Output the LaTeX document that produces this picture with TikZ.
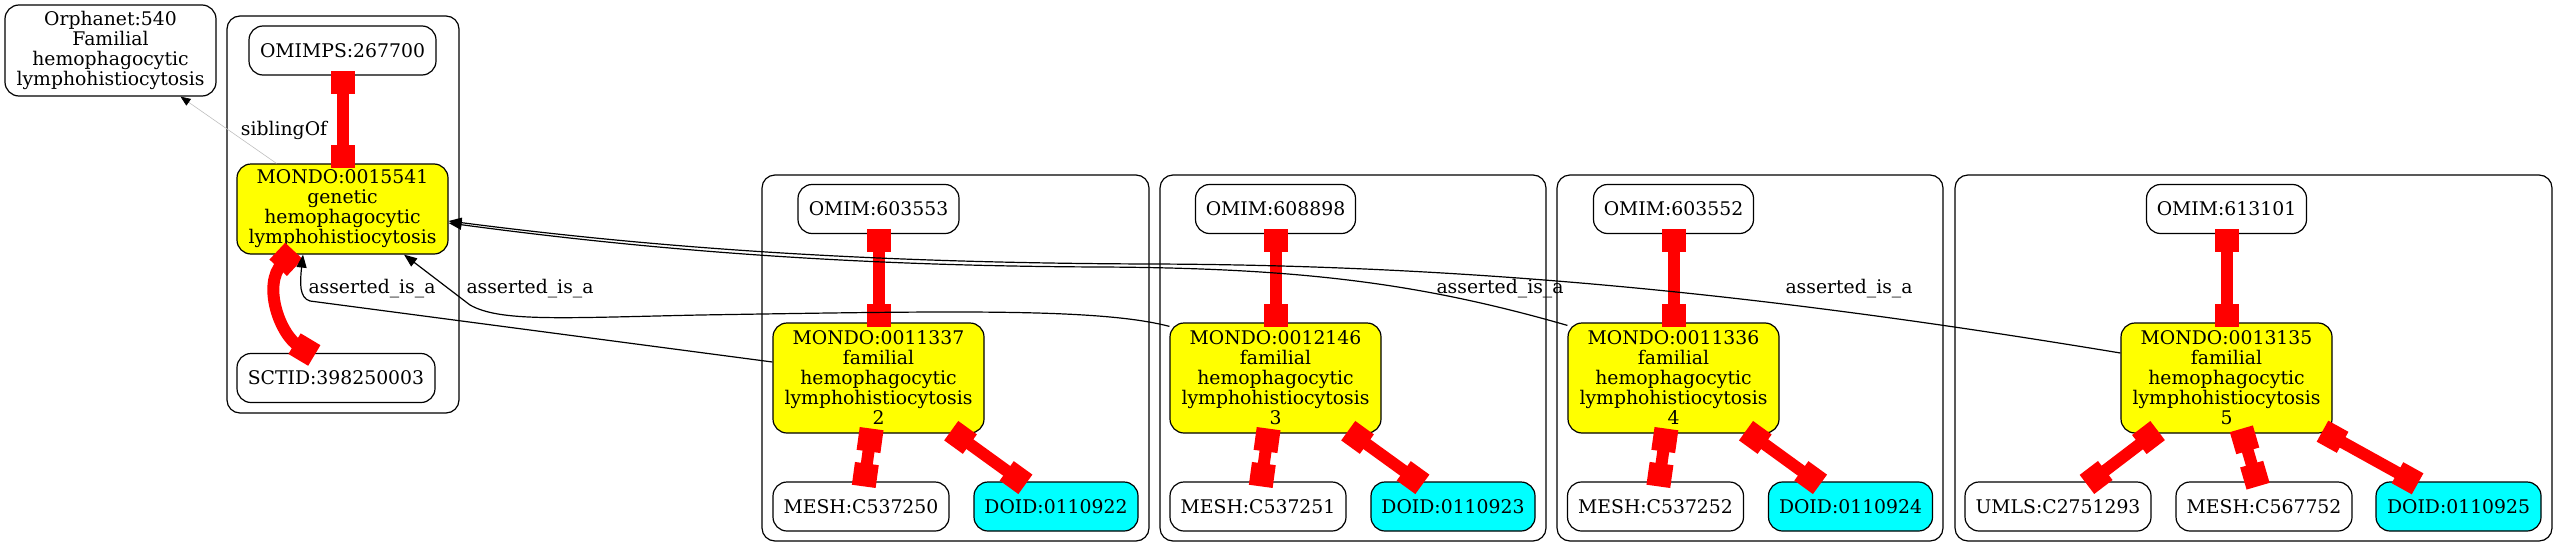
\documentclass[tikz,border=0pt]{standalone}
\usepackage{fontspec}
\setmainfont{DejaVu Serif}
\usepackage{tikz}
\usetikzlibrary{arrows.meta,backgrounds}
\definecolor{mondoyellow}{RGB}{255,255,0}
\definecolor{doidcyan}{RGB}{0,255,255}
\definecolor{xrefred}{RGB}{255,0,0}
\tikzstyle{term}=[draw=black, line width=0.6pt, rounded corners=7pt, align=center, inner sep=0pt, minimum height=24.5pt, font=\fontsize{9.4}{10}\selectfont]
\tikzstyle{mondo}=[term, fill=mondoyellow]
\tikzstyle{doid}=[term, fill=doidcyan]
\tikzstyle{xref}=[draw=xrefred, line width=6pt, {Square[length=11.5pt,width=12pt]}-{Square[length=11.5pt,width=12pt]}, shorten <=-2.5pt, shorten >=-2.5pt]
\tikzstyle{isa}=[draw=black, line width=0.6pt, -{Triangle[length=6.5pt,width=5pt]}]
\tikzstyle{sib}=[draw=black!25, line width=0.3pt, -{Triangle[length=5pt,width=4pt,color=black]}]
\tikzstyle{edgelab}=[anchor=base, inner sep=0pt, font=\fontsize{9.4}{10}\selectfont]
\tikzstyle{cluster}=[draw=black, line width=0.6pt, rounded corners=6.5pt]
\newcommand{\clusterBox}[2]{
  \begin{pgfonlayer}{background}
    \draw[cluster] #1 rectangle #2;
  \end{pgfonlayer}
}

\begin{document}
\begin{tikzpicture}[x=0.5pt,y=-0.5pt]
          \useasboundingbox (0,0) rectangle (2568,557);
          % 
          \node at (110.5,50.5) [term, minimum width=105.5pt, minimum height=45.5pt] (orph540) {Orphanet:540\\Familial\\hemophagocytic\\lymphohistiocytosis};
          \node at (342.5,50.5) [term, minimum width=93.5pt] (omimps) {OMIMPS:267700};
          \node at (342.5,209) [mondo, minimum width=105.5pt, minimum height=45pt] (m15541) {MONDO:0015541\\genetic\\hemophagocytic\\lymphohistiocytosis};
          \node at (336,378) [term, minimum width=99pt] (sctid) {SCTID:398250003};
          \clusterBox{(227,16)}{(459,413)}
          % 
          \node at (878.5,209) [term, minimum width=80.5pt] (omim603553) {OMIM:603553};
          \node at (878.5,378) [mondo, minimum width=105.5pt, minimum height=55pt] (m11337) {MONDO:0011337\\familial\\hemophagocytic\\lymphohistiocytosis\\2};
          \node at (861,506.5) [term, minimum width=88pt] (mesh537250) {MESH:C537250};
          \node at (1056,506.5) [doid, minimum width=82pt] (doid922) {DOID:0110922};
          \clusterBox{(762,175)}{(1149,541)}
          % 
          \node at (1275.5,209) [term, minimum width=80pt] (omim608898) {OMIM:608898};
          \node at (1275.5,378) [mondo, minimum width=105.5pt, minimum height=55pt] (m12146) {MONDO:0012146\\familial\\hemophagocytic\\lymphohistiocytosis\\3};
          \node at (1258,506.5) [term, minimum width=88pt] (mesh537251) {MESH:C537251};
          \node at (1453,506.5) [doid, minimum width=82pt] (doid923) {DOID:0110923};
          \clusterBox{(1160,175)}{(1546,541)}
          % 
          \node at (1673.5,209) [term, minimum width=80pt] (omim603552) {OMIM:603552};
          \node at (1673.5,378) [mondo, minimum width=105.5pt, minimum height=55pt] (m11336) {MONDO:0011336\\familial\\hemophagocytic\\lymphohistiocytosis\\4};
          \node at (1655.5,506.5) [term, minimum width=88pt] (mesh537252) {MESH:C537252};
          \node at (1850.5,506.5) [doid, minimum width=82pt] (doid924) {DOID:0110924};
          \clusterBox{(1557,175)}{(1943,541)}
          % 
          \node at (2226.5,209) [term, minimum width=80pt] (omim613101) {OMIM:613101};
          \node at (2226.5,378) [mondo, minimum width=105.5pt, minimum height=55pt] (m13135) {MONDO:0013135\\familial\\hemophagocytic\\lymphohistiocytosis\\5};
          \node at (2058,506.5) [term, minimum width=93pt] (umls) {UMLS:C2751293};
          \node at (2264,506.5) [term, minimum width=88pt] (mesh567752) {MESH:C567752};
          \node at (2458.5,506.5) [doid, minimum width=82.5pt] (doid925) {DOID:0110925};
          \clusterBox{(1955,175)}{(2552,541)}
          % 
          \draw[xref] (omimps) -- (m15541);
          \draw[xref] ([xshift=-26pt]m15541.south) .. controls (262,285) and (280,335) .. ([xshift=-13pt]sctid.north);
          \draw[xref] (omim603553) -- (m11337);
          \draw[xref] (m11337) -- (mesh537250);
          \draw[xref] (m11337) -- (doid922);
          \draw[xref] (omim608898) -- (m12146);
          \draw[xref] (m12146) -- (mesh537251);
          \draw[xref] (m12146) -- (doid923);
          \draw[xref] (omim603552) -- (m11336);
          \draw[xref] (m11336) -- (mesh537252);
          \draw[xref] (m11336) -- (doid924);
          \draw[xref] (omim613101) -- (m13135);
          \draw[xref] (m13135) -- (umls);
          \draw[xref] (m13135) -- (mesh567752);
          \draw[xref] (m13135) -- (doid925);
          % 
          \draw[sib] ([xshift=-33pt]m15541.north) -- ([xshift=35pt]orph540.south);
          \node at (284,135) [edgelab] (lsib) {siblingOf};
          \draw[isa] ([yshift=8pt]m11337.west) -- (310,301) .. controls (299,298) and (300,282) .. ([xshift=-19.75pt]m15541.south);
          \node at (372,293) [edgelab] (lisa1) {asserted\_is\_a};
          \draw[isa] ([yshift=-2pt]m12146.north west) .. controls (1100,308) and (950,311) .. (700,315) .. controls (560,318) and (500,322) .. (470,305) -- ([xshift=30.75pt]m15541.south);
          \node at (530,293) [edgelab] (lisa2) {asserted\_is\_a};
          \draw[isa] ([yshift=-1.5pt]m11336.north west) .. controls (1420,283) and (1300,268) .. (1100,267) .. controls (850,266) and (650,250) .. ([yshift=-7pt]m15541.east);
          \node at (1500,293) [edgelab] (lisa3) {asserted\_is\_a};
          \draw[isa] ([yshift=12.5pt]m13135.west) .. controls (1800,300) and (1500,265) .. (1150,264) .. controls (860,263) and (650,247) .. ([yshift=-6pt]m15541.east);
          \node at (1849,293) [edgelab] (lisa4) {asserted\_is\_a};
          % 
        \end{tikzpicture}
\end{document}
